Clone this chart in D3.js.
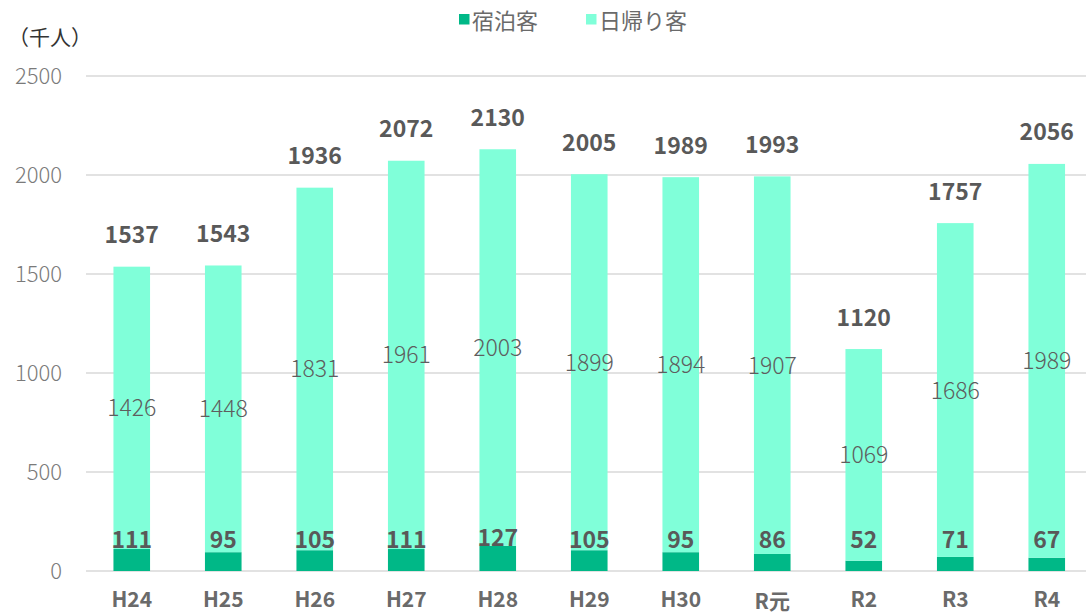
<!DOCTYPE html>
<html><head><meta charset="utf-8">
<script src="https://cdn.jsdelivr.net/npm/d3@7"></script>
<style>body{margin:0;background:#fff}svg{display:block}</style>
</head><body>
<svg id="c" width="1086" height="614"></svg>
<script>
const categories = ["H24","H25","H26","H27","H28","H29","H30","R元","R2","R3","R4"];
const stayGuests = [111,95,105,111,127,105,95,86,52,71,67];
const dayGuests = [1426,1448,1831,1961,2003,1899,1894,1907,1069,1686,1989];
const totals = [1537,1543,1936,2072,2130,2005,1989,1993,1120,1757,2056];
const yTicks = [0,500,1000,1500,2000,2500];
const seriesNames = ["宿泊客","日帰り客"];
const colors = ["#00B887","#80FFD9"];

const font = "'Noto Sans CJK JP','Noto Sans',sans-serif";
const svg = d3.select("#c");
const x = d3.scaleBand().domain(categories).range([86,1092.5]).paddingInner(0.6).paddingOuter(0.3);
const y = d3.scaleLinear().domain([0,2500]).range([571,76]);

// gridlines
svg.append("g").selectAll("line").data(yTicks).join("line")
  .attr("x1",86).attr("x2",1086).attr("y1",d=>y(d)).attr("y2",d=>y(d))
  .attr("stroke","#D9D9D9").attr("stroke-width",1.5);

// y tick labels
svg.append("g").selectAll("text").data(yTicks).join("text")
  .attr("x",62).attr("y",d=>y(d)+8).attr("text-anchor","end")
  .attr("font-family",font).attr("font-size",22).attr("font-weight",300).attr("fill","#7A7A7A").text(d=>d);

// unit label
svg.append("text").attr("x",8).attr("y",45).attr("font-family",font).attr("font-size",21)
  .attr("fill","#333").text("（千人）");

const data = categories.map((c,i)=>({c, s:stayGuests[i], d:dayGuests[i], t:totals[i]}));
const stack = d3.stack().keys(["s","d"])(data);

svg.append("g").selectAll("g").data(stack).join("g").attr("fill",(d,i)=>colors[i])
  .selectAll("rect").data(d=>d).join("rect")
  .attr("x",d=>x(d.data.c)).attr("width",x.bandwidth())
  .attr("y",d=>y(d[1])).attr("height",d=>y(d[0])-y(d[1]));

// stay labels
svg.append("g").selectAll("text").data(data).join("text")
  .attr("x",d=>x(d.c)+x.bandwidth()/2).attr("y",d=>Math.min(y(d.s),548))
  .attr("text-anchor","middle").attr("font-family",font).attr("font-size",23)
  .attr("font-weight","bold").attr("fill","#595959").text(d=>d.s);

// day labels
svg.append("g").selectAll("text").data(stack[1]).join("text")
  .attr("x",d=>x(d.data.c)+x.bandwidth()/2).attr("y",d=>(y(d[0])+y(d[1]))/2+8.5)
  .attr("text-anchor","middle").attr("font-family",font).attr("font-size",23)
  .attr("font-weight",300).attr("fill","#5E5E5E").text(d=>d.data.d);

// totals
svg.append("g").selectAll("text").data(data).join("text")
  .attr("x",d=>x(d.c)+x.bandwidth()/2).attr("y",d=>y(d.t)-23.5)
  .attr("text-anchor","middle").attr("font-family",font).attr("font-size",23)
  .attr("font-weight","bold").attr("fill","#595959").text(d=>d.t);

// x axis labels
svg.append("g").selectAll("text").data(categories).join("text")
  .attr("x",d=>x(d)+x.bandwidth()/2).attr("y",d=>d==="R元"?609:607)
  .attr("text-anchor","middle").attr("font-family",font).attr("font-size",21)
  .attr("font-weight","bold").attr("fill","#6A6A6A").text(d=>d);

// legend
const leg = svg.append("g");
const legX = [459,586];
seriesNames.forEach((n,i)=>{
  leg.append("rect").attr("x",legX[i]).attr("y",14).attr("width",10.5).attr("height",10.5).attr("fill",colors[i]);
  leg.append("text").attr("x",legX[i]+13).attr("y",29).attr("font-family",font).attr("font-size",22)
    .attr("fill","#6A6A6A").text(n);
});
</script>
</body></html>
